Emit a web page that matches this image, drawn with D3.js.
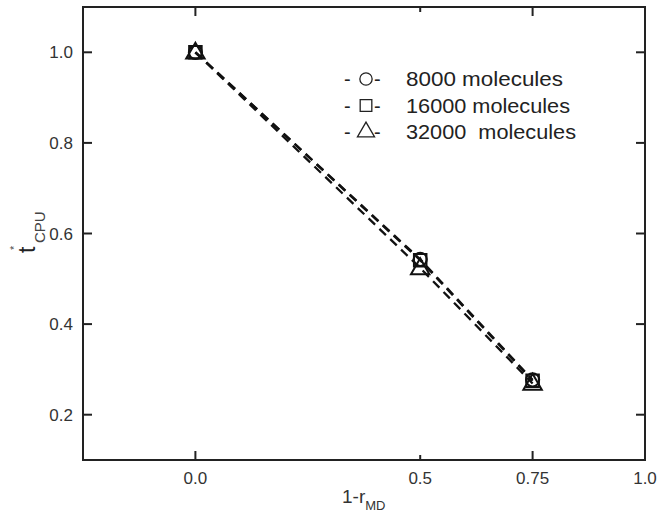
<!DOCTYPE html>
<html>
<head>
<meta charset="utf-8">
<script src="https://cdn.jsdelivr.net/npm/d3@7"></script>
<style>
  body { margin: 0; background: #fff; }
  text { font-family: "Liberation Sans", Arial, sans-serif; }
</style>
</head>
<body>
<svg id="chart" width="660" height="520"></svg>
<script>
// data
const xValues = [0, 0.5, 0.75];
const mol8000 = [1.0, 0.543, 0.277];
const mol16000 = [1.0, 0.541, 0.275];
const mol32000 = [1.0, 0.524, 0.269];
const seriesNames = ["8000 molecules", "16000 molecules", "32000  molecules"];
const seriesSymbols = ["circle", "square", "triangle"];
const xTicks = [0, 0.5, 0.75, 1.0];
const xTickLabels = ["0.0", "0.5", "0.75", "1.0"];
const yTicks = [0.2, 0.4, 0.6, 0.8, 1.0];

const svg = d3.select("#chart");
const plotLeft = 83, plotRight = 645, plotTop = 7, plotBottom = 460;

const x = d3.scaleLinear().domain([-0.25, 1.0]).range([plotLeft, plotRight]);
const y = d3.scaleLinear().domain([0.1, 1.1]).range([plotBottom, plotTop]);

// frame
svg.append("rect")
    .attr("x", plotLeft).attr("y", plotTop)
    .attr("width", plotRight - plotLeft).attr("height", plotBottom - plotTop)
    .attr("fill", "none").attr("stroke", "#222").attr("stroke-width", 2);

// ticks (inward)
const tickLen = d => d === 0.5 ? 5 : 9;
const tickG = svg.append("g").attr("stroke", "#222").attr("stroke-width", 2);
xTicks.filter(d => d < 1).forEach(d => {
    tickG.append("line").attr("x1", x(d)).attr("x2", x(d)).attr("y1", plotBottom).attr("y2", plotBottom - tickLen(d));
    tickG.append("line").attr("x1", x(d)).attr("x2", x(d)).attr("y1", plotTop).attr("y2", plotTop + tickLen(d));
});
yTicks.forEach(d => {
    tickG.append("line").attr("x1", plotLeft).attr("x2", plotLeft + 9).attr("y1", y(d)).attr("y2", y(d));
    tickG.append("line").attr("x1", plotRight).attr("x2", plotRight - 9).attr("y1", y(d)).attr("y2", y(d));
});

// tick labels
svg.selectAll(".xlab").data(xTicks).enter().append("text")
    .attr("class", "xlab")
    .attr("x", d => x(d)).attr("y", 484)
    .attr("text-anchor", "middle")
    .attr("font-size", 17).attr("fill", "#333")
    .text((d, i) => xTickLabels[i]);

svg.selectAll(".ylab").data(yTicks).enter().append("text")
    .attr("class", "ylab")
    .attr("x", 73).attr("y", d => y(d) + 6)
    .attr("text-anchor", "end")
    .attr("font-size", 17).attr("fill", "#333")
    .text(d => d.toFixed(1));

// axis titles
const xt = svg.append("text").attr("x", 342).attr("y", 503).attr("font-size", 19).attr("fill", "#333");
xt.append("tspan").text("1-r");
xt.append("tspan").attr("font-size", 13).attr("dy", 7).text("MD");

const yt = svg.append("g").attr("transform", "translate(35,253) rotate(-90)");
yt.append("text").attr("x", 0).attr("y", 0).attr("font-size", 23).attr("fill", "#222").text("t");
yt.append("text").attr("x", 3).attr("y", -17).attr("font-size", 11).attr("fill", "#444").text("*");
yt.append("text").attr("x", 10).attr("y", 10).attr("font-size", 15).attr("fill", "#444").text("CPU");

// lines
const line = d3.line().x((d, i) => x(xValues[i])).y(d => y(d));
const allSeries = [mol8000, mol16000, mol32000];
svg.selectAll(".series-line").data(allSeries).enter().append("path")
    .attr("class", "series-line")
    .attr("d", d => line(d))
    .attr("fill", "none").attr("stroke", "#111")
    .attr("stroke-width", 2.3).attr("stroke-dasharray", "9,6");

// markers
const symbolPath = (kind, s) => {
    if (kind === "circle") return d3.symbol(d3.symbolCircle, s * s * 0.7)();
    if (kind === "square") return d3.symbol(d3.symbolSquare, s * s * 0.8)();
    return d3.symbol(d3.symbolTriangle, s * s * 0.75)();
};
allSeries.forEach((vals, si) => {
    svg.selectAll(".m" + si).data(vals).enter().append("path")
        .attr("class", "m" + si)
        .attr("transform", (d, i) => `translate(${x(xValues[i])},${y(d) + (si === 2 ? 1 : 0)})`)
        .attr("d", symbolPath(seriesSymbols[si], 14))
        .attr("fill", "none").attr("stroke", "#111").attr("stroke-width", 2);
});

// legend
const legendWidths = [157, 164, 170];
const legend = svg.append("g");
seriesNames.forEach((name, i) => {
    const ly = 86 + i * 26.5;
    legend.append("text").attr("x", 344).attr("y", ly).attr("font-size", 20).attr("fill", "#222").text("-");
    legend.append("text").attr("x", 374).attr("y", ly).attr("font-size", 20).attr("fill", "#222").text("-");
    legend.append("path")
        .attr("transform", `translate(366,${ly - 7})`)
        .attr("d", symbolPath(seriesSymbols[i], 13))
        .attr("fill", "none").attr("stroke", "#222").attr("stroke-width", 1.3);
    legend.append("text").attr("x", 406).attr("y", ly)
        .attr("font-size", 20).attr("fill", "#222")
        .attr("textLength", legendWidths[i])
        .attr("lengthAdjust", "spacingAndGlyphs")
        .style("white-space", "pre")
        .text(name);
});
</script>
</body>
</html>
